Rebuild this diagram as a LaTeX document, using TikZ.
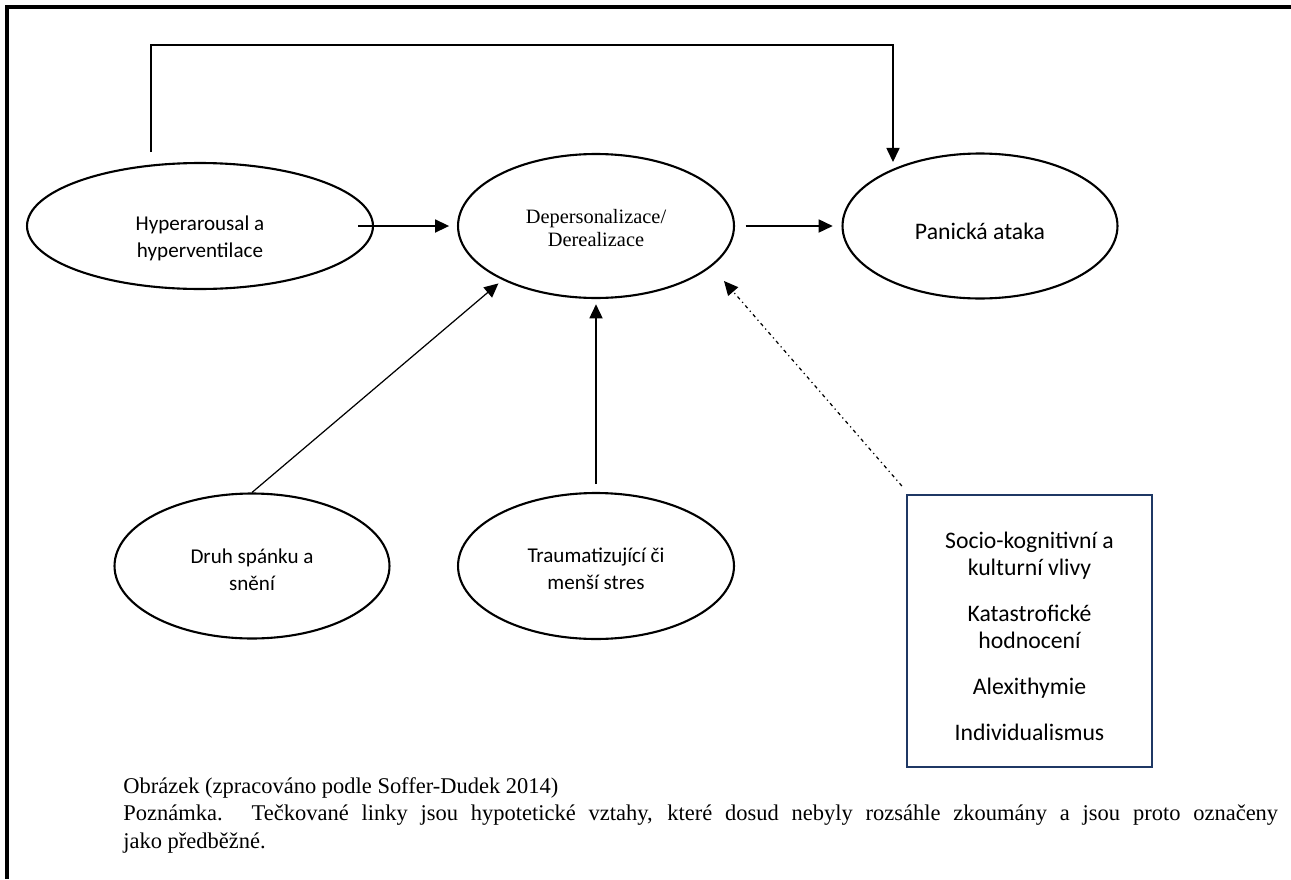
\documentclass[tikz,border=0pt]{standalone}
\usepackage{fontspec}
\setmainfont{Liberation Serif}
\newfontfamily\calibri{Carlito}
\usetikzlibrary{shapes.geometric,arrows.meta,positioning}

\definecolor{boxblue}{RGB}{31,56,100}

\tikzset{
  bubble/.style={ellipse, draw, line width=1.2pt, inner sep=0pt},
  txt/.style={align=center, inner sep=0pt, font=\calibri\fontsize{12}{15.5}\selectfont},
  factorbox/.style={rectangle, draw=boxblue, line width=1.3pt, inner sep=0pt,
    minimum width=4.9cm, minimum height=5.44cm},
  arr/.style={-{Triangle[length=8pt,width=7.5pt]}, line width=0.7pt},
  hyparr/.style={arr, dash pattern=on 2pt off 2pt on 0.7pt off 2pt},
  note/.style={anchor=base west, inner sep=0pt, font=\fontsize{12.8}{15.6}\selectfont}
}

\begin{document}
\begin{tikzpicture}[x=0.02cm, y=-0.02cm]
\useasboundingbox (0,0) rectangle (1291,879);
\draw[line width=1.9pt] (1291,7) -- (7,7) -- (7,879);% Frame

\node[bubble, minimum width=6.92cm, minimum height=2.52cm,
  label={[txt, yshift=-7pt]center:Hyperarousal a\\hyperventilace}] (hyper) at (200,226) {};
\node[bubble, minimum width=5.52cm, minimum height=2.88cm,
  label={[txt, yshift=-1pt, font=\fontsize{11.6}{13}\selectfont]center:Depersonalizace/\\Derealizace}] (deper) at (596,226) {};
\node[bubble, minimum width=5.5cm, minimum height=2.9cm,
  label={[txt, yshift=-3pt, font=\calibri\fontsize{13.5}{16}\selectfont]center:Panická ataka}] (panic) at (980,226) {};
\node[bubble, minimum width=5.5cm, minimum height=2.9cm,
  label={[txt, yshift=-2pt]center:Druh spánku a\\snění}] (sleep) at (252,566) {};
\node[bubble, minimum width=5.52cm, minimum height=2.92cm,
  label={[txt, yshift=-1.5pt]center:Traumatizující či\\menší stres}] (trauma) at (596,566) {};
\node[factorbox,
  label={[txt, yshift=-3pt, font=\calibri\fontsize{13.5}{15.3}\selectfont]center:Socio-kognitivní a\\kulturní vlivy\\[11pt]Katastrofické\\hodnocení\\[11pt]Alexithymie\\[11pt]Individualismus}] (factors) at (1029.5,631) {};

\coordinate (loopstart) at (151,152);
\coordinate (looptip) at (893,162);
\coordinate (hyptip) at (724,281);

\draw[arr] (loopstart) -- ++(0,-107) -| (looptip);
\draw[arr] ([xshift=-9pt]hyper.east) -- ([xshift=-4.5pt]deper.west);
\draw[arr] ([xshift=6pt]deper.east) -- ([xshift=-5pt]panic.west);
\draw[arr, shorten >=3pt] (sleep.north) -- (deper.210);
\draw[arr, shorten <=4.5pt, shorten >=3pt] (trauma.north) -- (deper.south);
\draw[hyparr] ([shift={(-2.3pt,4.5pt)}]factors.north west) -- (hyptip);

% Caption
\node[note] (cap1) at (123,793) {Obrázek (zpracováno podle Soffer-Dudek 2014)};
\node[note] (cap2) at (123,820) {\makebox[23.1cm][s]{Poznámka. Tečkované linky jsou hypotetické vztahy, které dosud nebyly rozsáhle zkoumány a jsou proto označeny}};
\node[note] (cap3) at (123,848) {jako předběžné.};
\end{tikzpicture}
\end{document}
